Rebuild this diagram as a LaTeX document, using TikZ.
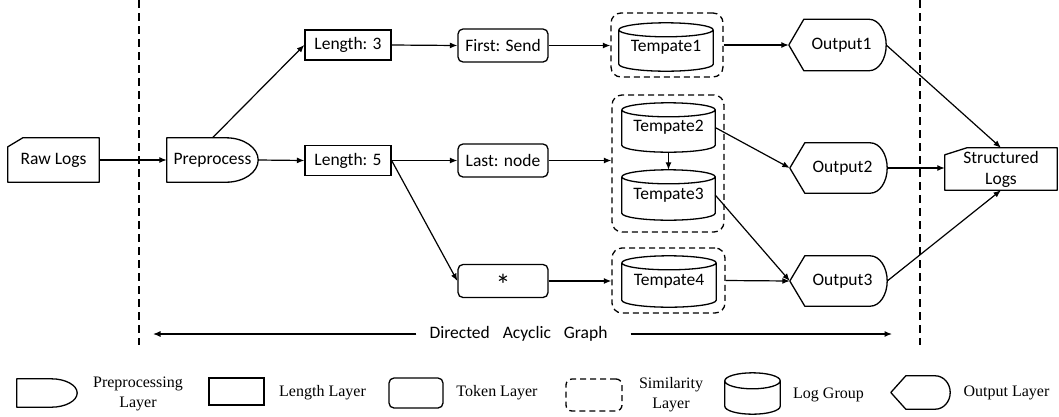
\documentclass[tikz,border=0pt]{standalone}
\usepackage{fontspec}
\setmainfont{Carlito}
\newfontfamily\legendfont{Liberation Serif}
\usetikzlibrary{arrows.meta,calc}

% outline helpers: each draws a shape around an (invisible) named node
\newcommand\drawcyl[2]{% node, half height of the end ellipses
  \draw[shapeline] let \p1=(#1.north west), \p2=(#1.south east) in
    (\x1,\y1-#2) -- (\x1,\y2+#2)
    arc[start angle=180,end angle=360,x radius={(\x2-\x1)/2},y radius=#2]
    -- (\x2,\y1-#2)
    ({(\x1+\x2)/2},\y1-#2) ellipse[x radius={(\x2-\x1)/2},y radius=#2];}
\newcommand\drawout[2]{% node, radius of the round right end
  \draw[shapeline] let \p1=(#1.north west), \p2=(#1.south east) in
    (\x1,{(\y1+\y2)/2}) -- (\x1+15pt,\y1) -- (\x2-#2,\y1)
    arc[start angle=90,end angle=-90,x radius=#2,y radius={(\y1-\y2)/2}]
    -- (\x1+15pt,\y2) -- cycle;}
\newcommand\drawprep[2]{% node, radius of the round right end
  \draw[shapeline] let \p1=(#1.north west), \p2=(#1.south east) in
    (\x1,\y1) -- (\x2-#2,\y1)
    arc[start angle=90,end angle=-90,x radius=#2,y radius={(\y1-\y2)/2}]
    -- (\x1,\y2) -- cycle;}
\newcommand\drawnotch[3]{% node, notch width, notch height
  \draw[shapeline] let \p1=(#1.north west), \p2=(#1.south east) in
    (\x1,\y1-#3) -- (\x1+#2,\y1) -- (\x2,\y1) -- (\x2,\y2) -- (\x1,\y2) -- cycle;}

\tikzset{
  shapeline/.style={line width=1.3pt,line join=round},
  base/.style={inner sep=0pt,font=\fontsize{17.5}{20}\selectfont,align=center},
  lenbox/.style={base,draw,line width=1.3pt,minimum width=86pt,minimum height=30pt},
  tokbox/.style={base,draw,line width=1.3pt,rounded corners=5pt,minimum width=90pt,minimum height=33pt},
  simgroup/.style={draw,line width=1.3pt,dash pattern=on 6pt off 4pt,rounded corners=10pt,inner sep=0pt},
  arr/.style={line width=1.2pt,-{Latex[length=7.5pt,width=6pt]}},
  sep/.style={line width=1.3pt,dash pattern=on 8pt off 5pt},
  legtext/.style={inner sep=0pt,font=\legendfont\fontsize{16}{20}\selectfont,align=center},
}

\begin{document}
\begin{tikzpicture}[x=1pt,y=-1pt]
\useasboundingbox (0,0) rectangle (1059,416);

% layer separators
\draw[sep] (139,0) -- (139,345);
\draw[sep] (920,0) -- (920,345);

% main graph
\node[base,minimum width=91pt,minimum height=44pt] (raw) at (53.5,160) {Raw Logs};
\drawnotch{raw}{15pt}{9pt}
\node[base,minimum width=91pt,minimum height=44pt,text width=91pt] (pre) at (212.5,160) {Preprocess\hspace*{4pt}};
\drawprep{pre}{32pt}

\node[lenbox] (len3) at (348,45) {Length: 3};
\node[lenbox] (len5) at (348,160.5) {Length: 5};

\node[tokbox] (first) at (503,45.5) {First: Send};
\node[tokbox] (last) at (503,160.5) {Last: node};
\node[tokbox] (star) at (503,281) {\smash{\raisebox{-0.8em}{\fontsize{30}{30}\selectfont *}}};

\node[simgroup,minimum width=112pt,minimum height=64pt] (g1) at (667,45) {};
\node[simgroup,minimum width=112pt,minimum height=137pt] (g2) at (668,163.5) {};
\node[simgroup,minimum width=113pt,minimum height=65pt] (g3) at (668.5,280.5) {};

\node[base,minimum width=94pt,minimum height=48pt] (t1) at (666,47) {\raisebox{-3pt}{Tempate1}};
\node[base,minimum width=93pt,minimum height=49pt] (t2) at (668.5,127.5) {\raisebox{-3pt}{Tempate2}};
\node[base,minimum width=93pt,minimum height=50pt] (t3) at (668.5,195) {\raisebox{-3pt}{Tempate3}};
\node[base,minimum width=94pt,minimum height=51pt] (t4) at (669,281.5) {\raisebox{-3pt}{Tempate4}};
\drawcyl{t1}{7pt}
\drawcyl{t2}{7pt}
\drawcyl{t3}{7pt}
\drawcyl{t4}{7pt}

\node[base,minimum width=97pt,minimum height=51pt] (o1) at (837.5,45) {\hspace*{8pt}Output1};
\node[base,minimum width=97pt,minimum height=50pt] (o2) at (838.5,168) {\hspace*{8pt}Output2};
\node[base,minimum width=97pt,minimum height=50pt] (o3) at (838.5,281) {\hspace*{8pt}Output3};
\drawout{o1}{17pt}
\drawout{o2}{17pt}
\drawout{o3}{17pt}

\node[base,minimum width=112pt,minimum height=42pt,font=\fontsize{17.5}{21}\selectfont] (sl) at (1001,169) {Structured\\Logs};
\drawnotch{sl}{22pt}{7pt}

% connectors
\draw[arr] (raw.east) -- (pre.west);
\draw[arr] (pre.north) -- (len3.west);
\draw[arr] (pre.east) -- (len5.west);
\draw[arr] (len3.east) -- (first.west);
\draw[arr] (len5.east) -- (last.west);
\draw[arr] (len5.east) -- (star.west);
\draw[arr] (first.east) -- (first.east -| g1.west);
\draw[arr] (last.east) -- (last.east -| g2.west);
\draw[arr] (star.east) -- (star.east -| g3.west);
\draw[arr] (t2.south) -- (t3.north);
\draw[arr] (g1.east) -- (o1.west);
\draw[arr] (t2.east) -- (o2.west);
\draw[arr] (t3.east) -- (o3.west);
\draw[arr] (g3.east) -- (o3.west);
\draw[arr] (o1.east) -- (sl.north);
\draw[arr] (o2.east) -- (o2.east -| sl.west);
\draw[arr] (o3.east) -- (sl.south);

% span of the graph
\node[base] (dag) at (518.5,334) {Directed\hspace{13pt}Acyclic\hspace{13pt}Graph};
\coordinate (dagL) at (153,334);
\coordinate (dagR) at (892,334);
\draw[arr] ([xshift=-13pt]dag.west) -- (dagL);
\draw[arr] ([xshift=23pt]dag.east) -- (dagR);

% legend
\node[base,minimum width=60pt,minimum height=28pt] (lpre) at (47,393) {};
\drawprep{lpre}{26pt}
\node[legtext] (lpret) at (138,394) {Preprocessing\\Layer};
\node[base,draw,line width=1.3pt,minimum width=55pt,minimum height=27pt] (llen) at (236.5,391.5) {};
\node[legtext] (llent) at (322.5,393) {Length Layer};
\node[base,draw,line width=1.3pt,rounded corners=5pt,minimum width=54pt,minimum height=30pt] (ltok) at (416,393) {};
\node[legtext] (ltokt) at (497,393) {Token Layer};
\node[simgroup,minimum width=56pt,minimum height=32pt,rounded corners=6pt] (lsim) at (594,395) {};
\node[legtext] (lsimt) at (671,394.5) {Similarity\\Layer};
\node[base,minimum width=55pt,minimum height=41pt] (lcyl) at (752.5,393.5) {};
\drawcyl{lcyl}{8pt}
\node[legtext] (lcylt) at (828.5,395) {Log Group};
\node[base,minimum width=59pt,minimum height=33pt] (lout) at (920.5,392.5) {};
\drawout{lout}{15pt}
\node[legtext] (loutt) at (1006.5,393) {Output Layer};
\end{tikzpicture}
\end{document}
